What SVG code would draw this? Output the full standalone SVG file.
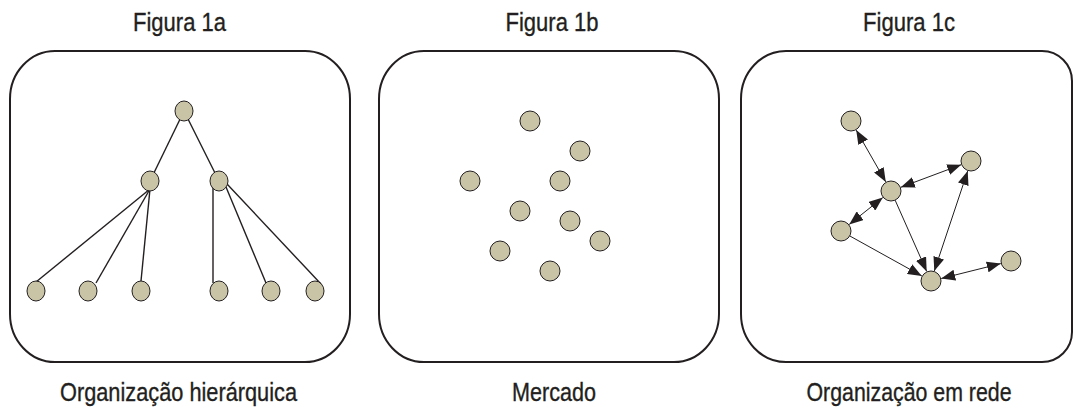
<svg xmlns="http://www.w3.org/2000/svg" width="1073" height="410" viewBox="0 0 1073 410">
<style>
.frame{fill:none;stroke:#231f20;stroke-width:2}
.node{fill:#c9c4a6;stroke:#231f20;stroke-width:1}
.edge{fill:none;stroke:#231f20;stroke-width:1.4}
.arc{fill:none;stroke:#231f20;stroke-width:1}
.lbl{font-family:"Liberation Sans",Arial,sans-serif;font-size:26px;fill:#231f20;stroke:#231f20;stroke-width:0.35;text-anchor:middle}
</style>
<defs>
<marker id="ah" viewBox="0 0 14 11" refX="14" refY="5.5" markerWidth="14" markerHeight="11" markerUnits="userSpaceOnUse" orient="auto-start-reverse">
<path d="M0,0 L14,5.5 L0,11 Z" fill="#231f20"/>
</marker>
</defs>
<rect fill="#ffffff" width="1073" height="410"/>

<g id="titles">
<text class="lbl" x="179.5" y="31" textLength="93" lengthAdjust="spacingAndGlyphs">Figura 1a</text>
<text class="lbl" x="552" y="31" textLength="93" lengthAdjust="spacingAndGlyphs">Figura 1b</text>
<text class="lbl" x="909" y="31" textLength="92" lengthAdjust="spacingAndGlyphs">Figura 1c</text>
<text class="lbl" x="178.5" y="401" textLength="237" lengthAdjust="spacingAndGlyphs">Organização hierárquica</text>
<text class="lbl" x="554" y="401" textLength="84" lengthAdjust="spacingAndGlyphs">Mercado</text>
<text class="lbl" x="909" y="401" textLength="205" lengthAdjust="spacingAndGlyphs">Organização em rede</text>
</g>

<g id="frames">
<rect class="frame" x="10" y="51" width="340" height="311" rx="45" ry="48"/>
<rect class="frame" x="379" y="51" width="340" height="311" rx="45" ry="48"/>
<path class="frame" d="M786,51 H1042 A30,30 0 0 1 1072,81 V332 A30,30 0 0 1 1042,362 H786 A45,48 0 0 1 741,314 V99 A45,48 0 0 1 786,51 Z"/>
</g>

<g id="connectors">
<line class="edge" x1="184" y1="111" x2="150" y2="181"/>
<line class="edge" x1="184" y1="111" x2="219" y2="181"/>
<line class="edge" x1="150" y1="189" x2="36" y2="282"/>
<line class="edge" x1="150" y1="189" x2="96" y2="283"/>
<line class="edge" x1="150" y1="189" x2="141" y2="281"/>
<line class="edge" x1="213" y1="187" x2="213" y2="283"/>
<line class="edge" x1="226" y1="187" x2="266" y2="283"/>
<line class="edge" x1="227" y1="184" x2="321" y2="284"/>

<line class="arc" x1="856.2" y1="130.1" x2="885.8" y2="181.9" marker-start="url(#ah)" marker-end="url(#ah)"/>
<line class="arc" x1="900.8" y1="187.3" x2="961.2" y2="164.7" marker-start="url(#ah)" marker-end="url(#ah)"/>
<line class="arc" x1="849.2" y1="224.4" x2="882.8" y2="197.6" marker-start="url(#ah)" marker-end="url(#ah)"/>
<line class="arc" x1="849.7" y1="235.9" x2="921.8" y2="275.9" marker-end="url(#ah)"/>
<line class="arc" x1="895.1" y1="200.1" x2="926.7" y2="271.4" marker-end="url(#ah)"/>
<line class="arc" x1="934.3" y1="271" x2="967.7" y2="171" marker-start="url(#ah)" marker-end="url(#ah)"/>
<line class="arc" x1="941.2" y1="278.5" x2="1000.8" y2="263.6" marker-start="url(#ah)" marker-end="url(#ah)"/>
</g>

<g id="hier-root"><ellipse class="node" cx="184" cy="111" rx="9" ry="10"/></g>
<g id="hier-mid-left"><ellipse class="node" cx="150" cy="181" rx="9" ry="10"/></g>
<g id="hier-mid-right"><ellipse class="node" cx="219" cy="181" rx="9" ry="10"/></g>
<g id="hier-leaf-1"><ellipse class="node" cx="36" cy="291" rx="9" ry="10"/></g>
<g id="hier-leaf-2"><ellipse class="node" cx="88" cy="291" rx="9" ry="10"/></g>
<g id="hier-leaf-3"><ellipse class="node" cx="141" cy="291" rx="9" ry="10"/></g>
<g id="hier-leaf-4"><ellipse class="node" cx="219" cy="291" rx="9" ry="10"/></g>
<g id="hier-leaf-5"><ellipse class="node" cx="271" cy="291" rx="9" ry="10"/></g>
<g id="hier-leaf-6"><ellipse class="node" cx="315" cy="291" rx="9" ry="10"/></g>

<g id="market-1"><circle class="node" cx="530" cy="121" r="10"/></g>
<g id="market-2"><circle class="node" cx="580" cy="151" r="10"/></g>
<g id="market-3"><circle class="node" cx="470" cy="181" r="10"/></g>
<g id="market-4"><circle class="node" cx="560" cy="181" r="10"/></g>
<g id="market-5"><circle class="node" cx="520" cy="211" r="10"/></g>
<g id="market-6"><circle class="node" cx="570" cy="221" r="10"/></g>
<g id="market-7"><circle class="node" cx="600" cy="241" r="10"/></g>
<g id="market-8"><circle class="node" cx="500" cy="251" r="10"/></g>
<g id="market-9"><circle class="node" cx="550" cy="271" r="10"/></g>

<g id="net-a"><circle class="node" cx="851" cy="121" r="10"/></g>
<g id="net-b"><circle class="node" cx="971" cy="161" r="10"/></g>
<g id="net-c"><circle class="node" cx="891" cy="191" r="10"/></g>
<g id="net-d"><circle class="node" cx="841" cy="231" r="10"/></g>
<g id="net-e"><circle class="node" cx="931" cy="281" r="10"/></g>
<g id="net-f"><circle class="node" cx="1011" cy="261" r="10"/></g>
</svg>
